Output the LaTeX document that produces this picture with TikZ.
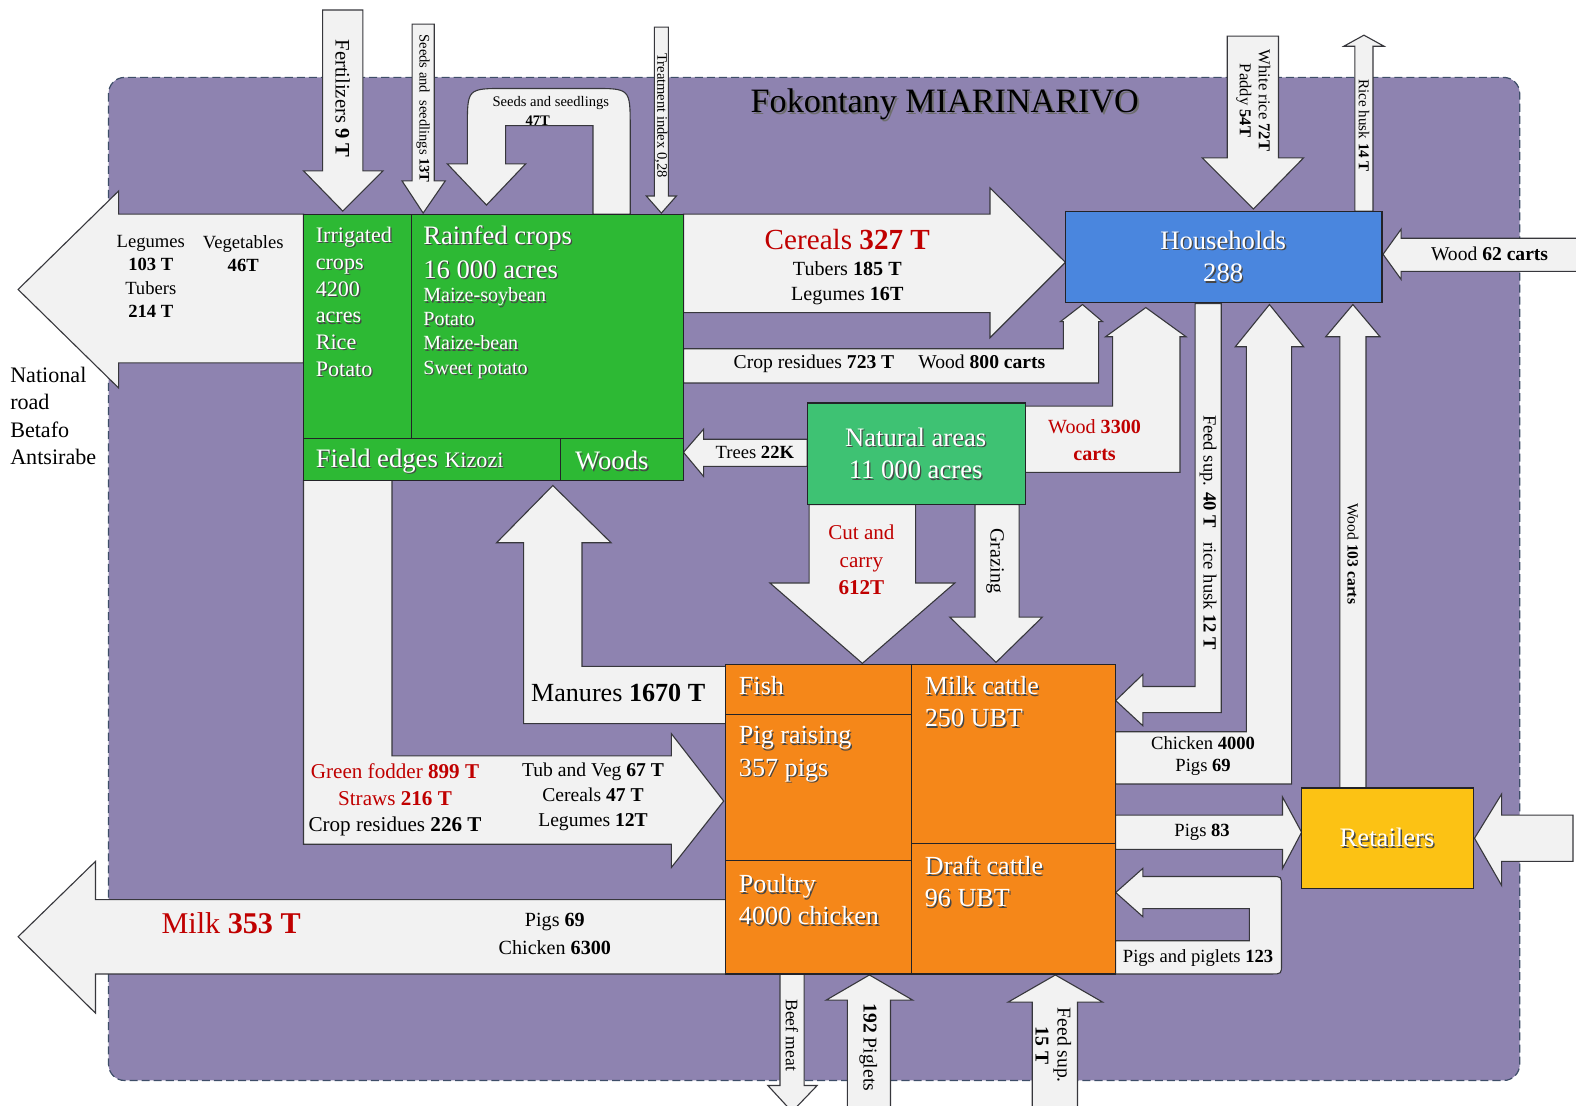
\documentclass[tikz,border=0pt]{standalone}
\usepackage{fontspec}
\setmainfont{Liberation Serif}
\definecolor{bgpurple}{RGB}{142,131,176}
\definecolor{bgborder}{RGB}{62,78,104}
\definecolor{arrowfill}{RGB}{242,242,242}
\definecolor{arrowline}{RGB}{55,55,60}
\definecolor{boxline}{RGB}{35,35,40}
\definecolor{cropgreen}{RGB}{45,185,52}
\definecolor{natgreen}{RGB}{62,194,115}
\definecolor{hhblue}{RGB}{74,134,222}
\definecolor{livorange}{RGB}{245,135,25}
\definecolor{retyellow}{RGB}{252,194,20}
\definecolor{redc}{RGB}{192,0,0}
\definecolor{shadowc}{RGB}{70,70,70}
\definecolor{titleshadow}{RGB}{110,110,110}
\newcommand\fs[1]{\fontsize{#1}{#1}\selectfont}
\newcommand\fsl[2]{\fontsize{#1}{#2}\selectfont}
\newcommand\shw[1]{\makebox[0pt][l]{\hspace{1.3pt}\raisebox{-1.3pt}{\textcolor{shadowc}{#1}}}\textcolor{white}{#1}}
\newcommand\shk[1]{\makebox[0pt][l]{\hspace{2pt}\raisebox{-2pt}{\textcolor{titleshadow}{#1}}}\textcolor{black}{#1}}
\tikzset{
  arr/.style={fill=arrowfill, draw=arrowline, line width=1.1pt, line join=miter},
  boxc/.style={draw=boxline, line width=1.1pt},
  lbl/.style={inner sep=0pt, align=center},
  lbw/.style={inner sep=0pt, anchor=west, align=left},
}
\begin{document}
\begin{tikzpicture}[x=1pt,y=-1pt]
\useasboundingbox (0,0) rectangle (1568,1100);
% background
\fill[white] (0,0) rectangle (1568,1100);
\draw[fill=bgpurple, draw=bgborder, line width=1.2pt, dash pattern=on 8pt off 4pt, rounded corners=16pt] (108,77) rectangle (1512,1075);

% ---------- arrows ----------
% national road (left)
\draw[arr] (302,213) -- (118,213) -- (118,190) -- (18,288) -- (118,386) -- (118,361) -- (302,361) -- cycle;
% fertilizers
\draw[arr] (321,10) -- (361,10) -- (361,170) -- (381,170) -- (341,210) -- (302,170) -- (321,170) -- cycle;
% seeds 13T
\draw[arr] (410,24) -- (432,24) -- (432,180) -- (443,180) -- (421,212) -- (400,180) -- (410,180) -- cycle;
% seeds 47T loop
\draw[arr] (590,213) -- (590,125) -- (503,125) -- (503,163) -- (523,163) -- (484,204) -- (445,163) -- (465,163) -- (465,126) .. controls (465,88) .. (503,88) -- (589,88) .. controls (627,88) .. (627,126) -- (627,213) -- cycle;
% treatment index
\draw[arr] (651,27) -- (665,27) -- (665,195) -- (673,195) -- (658,212) -- (643,195) -- (651,195) -- cycle;
% cereals
\draw[arr] (680,213) -- (985,213) -- (985,187) -- (1060,261) -- (985,336) -- (985,311) -- (680,311) -- cycle;
% crop residues / wood 800
\draw[arr] (680,347) -- (1058,347) -- (1058,320) -- (1055,320) -- (1077,303) -- (1097,320) -- (1093,320) -- (1093,381) -- (680,381) -- cycle;
% wood 3300
\draw[arr] (1020,404) -- (1107,404) -- (1107,335) -- (1100,335) -- (1140,306) -- (1180,335) -- (1174,335) -- (1174,470) -- (1020,470) -- cycle;
% trees
\draw[arr] (803,437) -- (700,437) -- (700,427) -- (680,450) -- (700,474) -- (700,464) -- (803,464) -- cycle;
% white rice
\draw[arr] (1221,36) -- (1272,36) -- (1272,157) -- (1297,157) -- (1247,208) -- (1196,157) -- (1221,157) -- cycle;
% rice husk out
\draw[arr] (1348,210) -- (1348,46) -- (1337,46) -- (1357,35) -- (1377,46) -- (1366,46) -- (1366,210) -- cycle;
% wood 62
\draw[arr] (1570,237) -- (1394,237) -- (1394,228) -- (1376,253) -- (1394,278) -- (1394,270) -- (1570,270) -- cycle;
% feed sup 40 T
\draw[arr] (1189,302) -- (1215,302) -- (1215,709) -- (1137,709) -- (1137,722) -- (1110,697) -- (1137,671) -- (1137,683) -- (1189,683) -- cycle;
% chicken / pigs to households
\draw[arr] (1110,728) -- (1240,728) -- (1240,345) -- (1229,345) -- (1263,303) -- (1297,345) -- (1285,345) -- (1285,780) -- (1110,780) -- cycle;
% wood 103
\draw[arr] (1333,784) -- (1333,335) -- (1319,335) -- (1346,303) -- (1373,335) -- (1359,335) -- (1359,784) -- cycle;
% pigs 83
\draw[arr] (1110,811) -- (1276,811) -- (1276,793) -- (1295,828) -- (1276,864) -- (1276,845) -- (1110,845) -- cycle;
% into retailers from right
\draw[arr] (1565,811) -- (1494,811) -- (1494,790) -- (1467,834) -- (1494,881) -- (1494,857) -- (1565,857) -- cycle;
% pigs and piglets loop
\draw[arr] (1110,969) -- (1265,969) .. controls (1275,969) .. (1275,959) -- (1275,882) .. controls (1275,872) .. (1265,872) -- (1137,872) -- (1137,864) -- (1110,888) -- (1137,912) -- (1137,904) -- (1243,904) -- (1243,936) -- (1110,936) -- cycle;
% grazing
\draw[arr] (970,502) -- (1014,502) -- (1014,614) -- (1037,614) -- (991,659) -- (945,614) -- (970,614) -- cycle;
% cut and carry
\draw[arr] (805,502) -- (911,502) -- (911,580) -- (950,580) -- (858,660) -- (766,580) -- (805,580) -- cycle;
% manures
\draw[arr] (722,663) -- (579,663) -- (579,540) -- (608,540) -- (550,483) -- (494,540) -- (521,540) -- (521,720) -- (722,720) -- cycle;
% green fodder
\draw[arr] (302,478) -- (390,478) -- (390,752) -- (668,752) -- (668,730) -- (720,797) -- (668,863) -- (668,840) -- (302,840) -- cycle;
% milk
\draw[arr] (722,895) -- (95,895) -- (95,857) -- (18,932) -- (95,1008) -- (95,969) -- (722,969) -- cycle;
% beef meat
\draw[arr] (776,969) -- (800,969) -- (800,1080) -- (813,1080) -- (788,1106) -- (764,1080) -- (776,1080) -- cycle;
% 192 piglets
\draw[arr] (843,1112) -- (843,995) -- (822,995) -- (865,970) -- (908,995) -- (886,995) -- (886,1112) -- cycle;
% feed sup 15 T
\draw[arr] (1027,1112) -- (1027,997) -- (1003,997) -- (1050,970) -- (1097,997) -- (1072,997) -- (1072,1112) -- cycle;

% ---------- boxes ----------
\draw[boxc, fill=cropgreen] (302,213) rectangle (680,478);
\draw[boxc] (409,213) -- (409,436);
\draw[boxc] (302,436) -- (680,436);
\draw[boxc] (558,436) -- (558,478);
\draw[boxc, fill=natgreen] (803,401) rectangle (1020,502);
\draw[boxc, fill=hhblue] (1060,210) rectangle (1375,301);
\draw[boxc, fill=retyellow] (1295,784) rectangle (1466,884);
\draw[boxc, fill=livorange] (722,661) rectangle (1110,969);
\draw[boxc] (907,661) -- (907,969);
\draw[boxc] (722,711) -- (907,711);
\draw[boxc] (722,856) -- (907,856);
\draw[boxc] (907,839) -- (1110,839);

% ---------- texts ----------
\node[lbl, font=\fs{34}] (title) at (940,105) {\shk{Fokontany MIARINARIVO}};

\node[lbl, font=\fsl{18.5}{23}] (natleg) at (150,275) {Legumes\\\textbf{103 T}\\Tubers\\\textbf{214 T}};
\node[lbl, font=\fsl{18.5}{23}] (natveg) at (242,252) {Vegetables\\\textbf{46T}};
\node[lbw, font=\fsl{22}{27.3}] (natroad) at (10,414) {National\\road\\Betafo\\Antsirabe};

\node[lbw, font=\fsl{22}{26.6}, text=white] (irr) at (314,301) {\shw{Irrigated}\\\shw{crops}\\\shw{4200}\\\shw{acres}\\\shw{Rice}\\\shw{Potato}};
\node[lbw, font=\fs{26.5}] (rf1) at (421,237) {\shw{Rainfed crops}};
\node[lbw, font=\fs{26.5}] (rf2) at (421,269) {\shw{16 000 acres}};
\node[lbw, font=\fsl{20}{24}] (rf3) at (421,332) {\shw{Maize-soybean}\\\shw{Potato}\\\shw{Maize-bean}\\\shw{Sweet potato}};
\node[lbw, font=\fs{26.5}] (fe) at (314,459) {\shw{Field edges {\fs{22}Kizozi}}};
\node[lbw, font=\fs{26.5}] (woods) at (572,459) {\shw{Woods}};

\node[lbl, font=\fs{20.5}] (fert) at (341,98) [rotate=-90] {Fertilizers \textbf{9 T}};
\node[lbl, font=\fs{14.5}] (seed13) at (421,108) [rotate=-90] {Seeds and\ \ seedlings \textbf{13T}};
\node[lbl, font=\fs{14.5}] (seed47a) at (548,102) {Seeds and seedlings};
\node[lbl, font=\fs{14.5}] (seed47b) at (535,120) {\textbf{47T}};
\node[lbl, font=\fs{14.5}] (treat) at (658,115) [rotate=-90] {Treatment index 0,28};

\node[lbl, font=\fs{29}, text=redc] (cer1) at (843,238) {Cereals \textbf{327 T}};
\node[lbl, font=\fsl{20}{25}] (cer2) at (843,282) {Tubers \textbf{185 T}\\Legumes \textbf{16T}};
\node[lbl, font=\fs{19.5}] (cres) at (885,362) {Crop residues \textbf{723 T}\hspace{24pt}Wood \textbf{800 carts}};

\node[lbl, font=\fsl{26.5}{32}] (nat) at (911,452) {\shw{Natural areas}\\\shw{11 000 acres}};
\node[lbl, font=\fsl{20}{27}, text=redc] (w3300) at (1089,438) {Wood \textbf{3300}\\\textbf{carts}};
\node[lbl, font=\fs{18.5}] (trees) at (751,450) {Trees \textbf{22K}};

\node[lbl, font=\fsl{26.5}{32}] (hh) at (1217,256) {\shw{Households}\\\shw{288}};
\node[lbl, font=\fsl{16.5}{19}] (wrice) at (1247,100) [rotate=-90] {White rice \textbf{72T}\\Paddy \textbf{54T}};
\node[lbl, font=\fs{15}] (rhusk) at (1357,125) [rotate=-90] {Rice husk \textbf{14 T}};
\node[lbl, font=\fs{19.5}] (w62) at (1482,253) {Wood \textbf{62 carts}};

\node[lbl, font=\fs{18.5}] (fs40) at (1202,530) [rotate=-90] {Feed sup. \textbf{40 T}\hspace{14pt}rice husk \textbf{12 T}};
\node[lbl, font=\fsl{18.5}{22}] (chk) at (1197,752) {Chicken \textbf{4000}\\Pigs \textbf{69}};
\node[lbl, font=\fs{15.5}] (w103) at (1346,551) [rotate=-90] {Wood \textbf{103 carts}};
\node[lbl, font=\fs{26.5}] (ret) at (1380,834) {\shw{Retailers}};
\node[lbl, font=\fs{18.5}] (p83) at (1196,828) {Pigs \textbf{83}};
\node[lbl, font=\fs{18.5}] (ppig) at (1192,953) {Pigs and piglets \textbf{123}};

\node[lbl, font=\fsl{21}{27}, text=redc] (cut) at (857,557) {Cut and\\carry\\\textbf{612T}};
\node[lbl, font=\fs{20}] (graz) at (990,558) [rotate=-90] {Grazing};

\node[lbw, font=\fs{26}] (fish) at (735,683) {\shw{Fish}};
\node[lbw, font=\fsl{26}{32}] (pig) at (735,751) {\shw{Pig raising}\\\shw{357 pigs}};
\node[lbw, font=\fsl{26}{32}] (poul) at (735,896) {\shw{Poultry}\\\shw{4000 chicken}};
\node[lbw, font=\fsl{26}{32}] (milkc) at (920,699) {\shw{Milk cattle}\\\shw{250 UBT}};
\node[lbw, font=\fsl{26}{32}] (draft) at (920,878) {\shw{Draft cattle}\\\shw{96 UBT}};

\node[lbl, font=\fs{26}] (man) at (615,689) {Manures \textbf{1670 T}};
\node[lbl, font=\fsl{21}{26.5}] (gf) at (393,796) {\textcolor{redc}{Green fodder \textbf{899 T}}\\\textcolor{redc}{Straws \textbf{216 T}}\\Crop residues \textbf{226 T}};
\node[lbl, font=\fsl{19.5}{25}] (tub) at (590,793) {Tub and Veg \textbf{67 T}\\Cereals \textbf{47 T}\\Legumes \textbf{12T}};

\node[lbl, font=\fs{30}, text=redc] (milk) at (230,918) {Milk \textbf{353 T}};
\node[lbl, font=\fsl{20}{28}] (mpc) at (552,929) {Pigs \textbf{69}\\Chicken \textbf{6300}};

\node[lbl, font=\fs{17.5}] (beef) at (788,1030) [rotate=-90] {Beef meat};
\node[lbl, font=\fs{19.5}] (pig192) at (864,1042) [rotate=-90] {\textbf{192} Piglets};
\node[lbl, font=\fsl{19.5}{22}] (fs15) at (1048,1040) [rotate=-90] {Feed sup.\\\textbf{15 T}};
\end{tikzpicture}
\end{document}
